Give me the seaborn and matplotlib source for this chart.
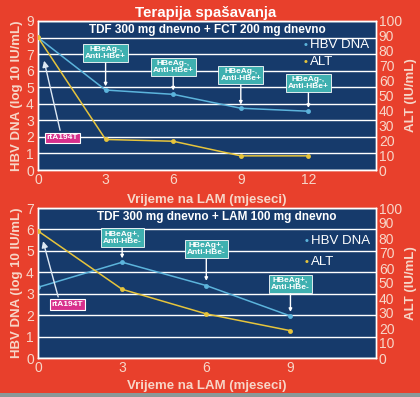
import matplotlib
matplotlib.use("Agg")
import matplotlib.pyplot as plt
import seaborn as sns
import pandas as pd

sns.set_theme(style="white")
plt.rcParams['font.family'] = ['Liberation Sans', 'DejaVu Sans']

# ---- data ----
months_top = [0, 3, 6, 9, 12]
hbv_top = [8.0, 4.83, 4.57, 3.73, 3.55]
alt_top = [89, 20.5, 19.3, 9.5, 9.5]

months_bot = [0, 3, 6, 9]
hbv_bot = [3.3, 4.47, 3.38, 1.96]
alt_bot = [84.7, 45.8, 29.4, 18.2]

title = "Terapija spašavanja"
sub_top = "TDF 300 mg dnevno + FCT 200 mg dnevno"
sub_bot = "TDF 300 mg dnevno + LAM 100 mg dnevno"
xlabel = "Vrijeme na LAM (mjeseci)"
ylabel_l = "HBV DNA (log 10 IU/mL)"
ylabel_r = "ALT (IU/mL)"
labels_top = ["HBeAg-,\nAnti-HBe+"] * 4
labels_bot = ["HBeAg+,\nAnti-HBe-"] * 3
mut_label = "rtA194T"

RED = "#e8402c"
NAVY = "#163a6b"
BLUE = "#5cb4dc"
YEL = "#e6c43c"
TEAL = "#3fb0b0"
MAG = "#d8308c"
TXT = "#f7d6c8"

fig = plt.figure(figsize=(4.2, 3.97), dpi=100, facecolor=RED)
fig.text(206/420, 0.968, title, color="white", fontsize=10.8, fontweight="bold",
         ha="center", va="center")
# grey strip at the bottom
fig.patches.append(plt.Rectangle((0, 0), 1, 4/397, transform=fig.transFigure,
                                 facecolor="#8a9898", edgecolor="none"))


def panel(rect, months, hbv, alt, ymax, xmax, xticks, sub, subx, boxes, mut, leg, xlpad):
    ax = fig.add_axes(rect)
    ax.set_facecolor(NAVY)
    ax2 = ax.twinx()
    df = pd.DataFrame({"m": months, "hbv": hbv, "alt": alt})
    sns.lineplot(data=df, x="m", y="hbv", ax=ax, color=BLUE, marker="o",
                 markersize=3.5, markeredgewidth=0, linewidth=1.1, zorder=3)
    sns.lineplot(data=df, x="m", y="alt", ax=ax2, color=YEL, marker="o",
                 markersize=3.5, markeredgewidth=0, linewidth=1.1, zorder=3)
    ax.set_xlim(0, xmax)
    ax.set_ylim(0, ymax)
    ax2.set_ylim(0, 100)
    ax.set_xticks(xticks)
    ax.set_yticks(range(0, ymax + 1))
    ax2.set_yticks(range(0, 101, 10))
    ax.grid(axis="y", color="white", linewidth=1.0)
    ax.set_axisbelow(True)
    for a in (ax, ax2):
        for s in a.spines.values():
            s.set_color("white")
            s.set_linewidth(1.0)
        a.tick_params(length=0, labelsize=10, labelcolor=TXT, pad=2)
        a.set_xlabel("")
    ax.tick_params(axis="y", pad=3)
    ax.set_xlabel(xlabel, color=TXT, fontsize=9.5, fontweight="bold", labelpad=xlpad)
    ax.set_ylabel(ylabel_l, color=TXT, fontsize=9.5, fontweight="bold", labelpad=2)
    ax2.set_ylabel(ylabel_r, color=TXT, fontsize=9.5, fontweight="bold", labelpad=2)
    ax.text(subx, 0.94, sub, transform=ax.transAxes, color="white", fontsize=8.5,
            fontweight="bold", ha="center", va="center")
    for (bx, by, ty, lab) in boxes:
        ax.annotate(lab, xy=(bx, ty), xytext=(bx, by), ha="center", va="center",
                    fontsize=6, fontweight="bold", color="white", linespacing=1.0,
                    bbox=dict(boxstyle="square,pad=0.25", facecolor=TEAL,
                              edgecolor="white", linewidth=0.6),
                    arrowprops=dict(arrowstyle="-|>,head_width=0.15,head_length=0.3",
                                    color="white", lw=1.0, shrinkA=0, shrinkB=0),
                    zorder=5)
    (mx, my, ax0, ay0, ax1, ay1) = mut
    ax.annotate("", xy=(ax1, ay1), xytext=(ax0, ay0),
                arrowprops=dict(arrowstyle="-|>,head_width=0.15,head_length=0.3",
                                color="#dde8f4", lw=1.0, shrinkA=0, shrinkB=0), zorder=5)
    ax.text(mx, my, mut_label, ha="center", va="center", fontsize=6,
            fontweight="bold", color="white",
            bbox=dict(boxstyle="square,pad=0.2", facecolor=MAG, edgecolor="white",
                      linewidth=0.8), zorder=6)
    lx, ly1, ly2 = leg
    ax.text(lx, ly1, "•", color=BLUE, fontsize=8, ha="left", va="center", fontweight="bold")
    ax.text(lx + xmax * 0.018, ly1, "HBV DNA", color="white", fontsize=9.5,
            ha="left", va="center")
    ax.text(lx, ly2, "•", color=YEL, fontsize=8, ha="left", va="center", fontweight="bold")
    ax.text(lx + xmax * 0.018, ly2, "ALT", color="white", fontsize=9.5,
            ha="left", va="center")
    return ax


panel([38/420, 1 - 170/397, 338/420, 149/397], months_top, hbv_top, alt_top,
      9, 15, [0, 3, 6, 9, 12], sub_top, 0.5,
      [(3, 7.05, 5.05, labels_top[0]), (6, 6.2, 4.8, labels_top[1]),
       (9, 5.75, 3.95, labels_top[2]), (12, 5.25, 3.75, labels_top[3])],
      (1.09, 1.95, 0.98, 2.4, 0.27, 6.6),
      (11.8, 7.55, 6.5), 5)

panel([38/420, 1 - 358/397, 338/420, 150/397], months_bot, hbv_bot, alt_bot,
      7, 12.05, [0, 3, 6, 9], sub_bot, 0.528,
      [(3, 5.62, 4.65, labels_bot[0]), (6, 5.08, 3.6, labels_bot[1]),
       (9, 3.45, 2.15, labels_bot[2])],
      (1.05, 2.49, 0.72, 2.85, 0.18, 5.45),
      (9.5, 5.47, 4.49), 4)

fig.savefig("out.png", dpi=100, facecolor=RED)
